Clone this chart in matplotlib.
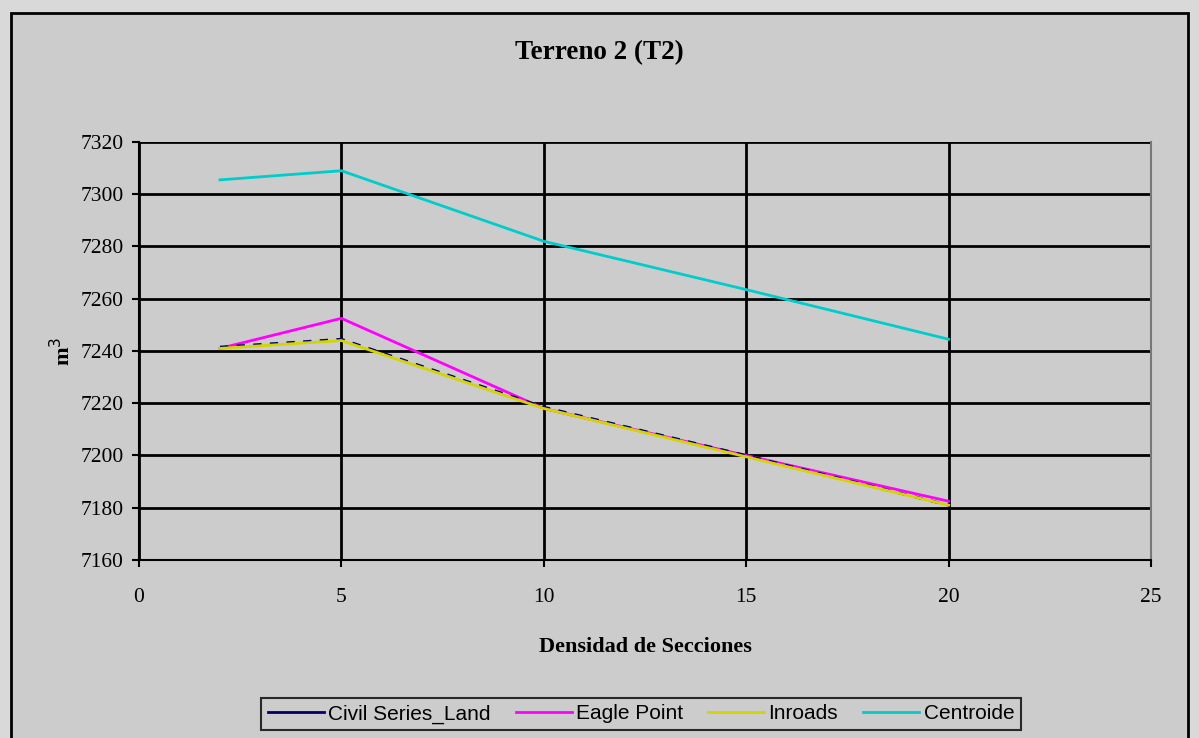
import numpy as np
import matplotlib.pyplot as plt
from matplotlib.patches import Rectangle

# densidad de secciones
x = [2, 5, 10, 15, 20]

civil_series = [7241.5, 7244.5, 7218.5, 7200, 7181]
eagle_point = [7241, 7252.5, 7218, 7200, 7182.5]
inroads = [7241, 7244, 7218, 7199.5, 7181]
centroide = [7305.5, 7309, 7282, 7263.5, 7244.5]

plt.rcParams['font.family'] = ['Liberation Serif', 'DejaVu Serif']

fig = plt.figure(figsize=(11.99, 7.38), dpi=100, facecolor='#d9d9d9')
# chart area with black frame
fig.patches.append(Rectangle((11/1199, -0.05), (1188-11)/1199, 1.05 - 13/738,
                             transform=fig.transFigure, facecolor='#cccccc',
                             edgecolor='black', linewidth=2, zorder=-5))

ax = fig.add_axes([139/1199, 1 - 560/738, (1151-139)/1199, (560-142)/738])
ax.set_facecolor('#cccccc')

ax.plot(x, eagle_point, color='#ff00ff', lw=2, label='Eagle Point', zorder=3)
ax.plot(x, civil_series, color='#000066', lw=2, ls=(0, (3, 3)), label='Civil Series_Land', zorder=4)
ax.plot(x, inroads, color='#d4d400', lw=2, label='Inroads', zorder=5)
ax.plot(x, centroide, color='#00cccc', lw=2, label='Centroide', zorder=3)

ax.set_xlim(0, 25)
ax.set_ylim(7160, 7320)
ax.set_xticks([0, 5, 10, 15, 20, 25])
ax.set_yticks(np.arange(7160, 7321, 20))
ax.grid(True, color='black', lw=2)
ax.set_axisbelow(True)

for s in ['left', 'bottom']:
    ax.spines[s].set_color('black')
    ax.spines[s].set_linewidth(1.5)
ax.spines['top'].set_visible(False)
ax.spines['right'].set_color('#777777')
ax.spines['right'].set_linewidth(1.5)

ax.tick_params(axis='both', labelsize=15.5, color='black', direction='out', length=5, width=1.5)
ax.tick_params(axis='y', pad=6)
ax.tick_params(axis='x', pad=15)

fig.text(0.5, 1 - 53/738, 'Terreno 2 (T2)', ha='center', va='center', fontsize=19.5, fontweight='bold')
ax.set_xlabel('Densidad de Secciones', fontsize=16, fontweight='bold', labelpad=22)
ax.set_ylabel('m$^3$', fontsize=16, fontweight='bold', labelpad=4)

handles, labels = ax.get_legend_handles_labels()
order = [1, 0, 2, 3]
leg = fig.legend([handles[i] for i in order], [labels[i] for i in order],
                 loc='center', bbox_to_anchor=(641/1199, 1 - 714/738), ncol=4,
                 frameon=True, fancybox=False, edgecolor='black', facecolor='#cccccc',
                 handlelength=2.7, handletextpad=0.2, columnspacing=1.2,
                 borderpad=0.3, prop={'family': 'Liberation Sans', 'size': 15})
leg.get_frame().set_linewidth(1.5)
for h in leg.get_lines():
    h.set_linestyle('-')

fig.savefig('out.png', dpi=100, facecolor=fig.get_facecolor())
